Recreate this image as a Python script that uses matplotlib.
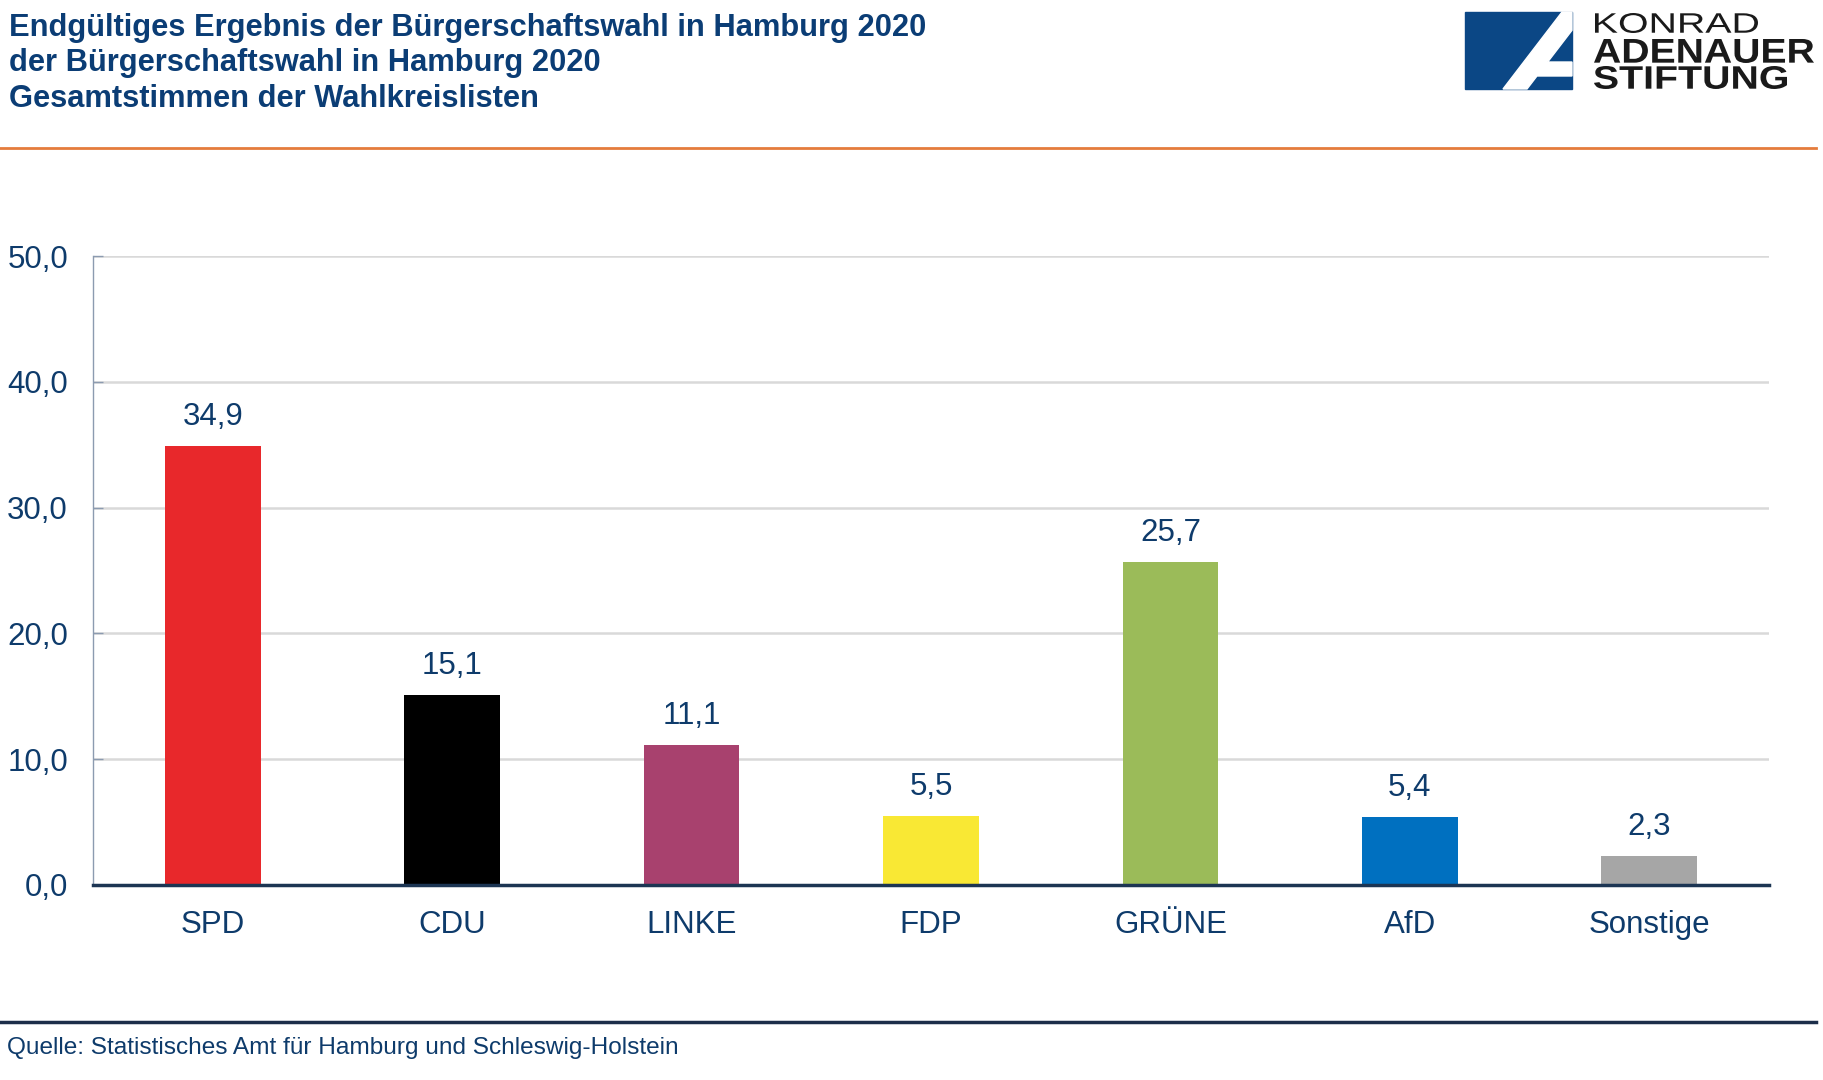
import matplotlib
matplotlib.use("Agg")
import matplotlib.pyplot as plt
from matplotlib.lines import Line2D
from matplotlib.patches import Polygon, PathPatch
from matplotlib.textpath import TextPath
from matplotlib.font_manager import FontProperties
from matplotlib.transforms import Affine2D

plt.rcParams['font.family'] = ['Liberation Sans', 'DejaVu Sans']

parteien = ['SPD', 'CDU', 'LINKE', 'FDP', 'GRÜNE', 'AfD', 'Sonstige']
anteile = [34.9, 15.1, 11.1, 5.5, 25.7, 5.4, 2.3]
farben = ['#e8282b', '#000000', '#a8416e', '#f9e834', '#9bbb59', '#0070c0', '#a6a6a6']
yticks = [0, 10, 20, 30, 40, 50]

W, H = 1823, 1080
navy = '#0e3b6b'

fig = plt.figure(figsize=(W / 100, H / 100), dpi=100)

def fx(px):
    return px / W

def fy(py):
    return 1 - py / H

# plot area
ax = fig.add_axes([fx(93), fy(885), fx(1769 - 93), (885 - 256) / H])
x = range(len(parteien))
bars = ax.bar(x, anteile, width=0.4, color=farben, zorder=3)
for b, v in zip(bars, anteile):
    ax.annotate(f'{v:.1f}'.replace('.', ','), (b.get_x() + b.get_width() / 2, v),
                xytext=(0, 10), textcoords='offset points', ha='center', va='bottom',
                fontsize=22.5, color=navy)

ax.set_xlim(-0.5, len(parteien) - 0.5)
ax.set_ylim(0, 50)
ax.set_yticks(yticks)
ax.set_yticklabels([f'{t:.1f}'.replace('.', ',') for t in yticks], fontsize=22.5, color=navy)
ax.set_xticks(list(x))
ax.set_xticklabels(parteien, fontsize=22.5, color=navy)
ax.tick_params(axis='x', length=0, pad=18)
ax.tick_params(axis='y', direction='in', length=7, width=1, color='#8c9bb0', pad=18)
ax.grid(axis='y', color='#d9d9d9', linewidth=1.8, zorder=0)
ax.set_axisbelow(True)
for s in ['top', 'right']:
    ax.spines[s].set_visible(False)
ax.spines['left'].set_color('#8c9bb0')
ax.spines['left'].set_linewidth(1)
ax.spines['bottom'].set_color('#1c3553')
ax.spines['bottom'].set_linewidth(2.5)
ax.spines['bottom'].set_zorder(4)

# title
titel = ['Endgültiges Ergebnis der Bürgerschaftswahl in Hamburg 2020',
         'der Bürgerschaftswahl in Hamburg 2020',
         'Gesamtstimmen der Wahlkreislisten']
for zeile, base in zip(titel, [36, 71, 107]):
    fig.text(fx(9), fy(base), zeile, fontsize=22.2, fontweight='bold', color='#0b3d75',
             ha='left', va='baseline')

# separator lines
fig.add_artist(Line2D([0, fx(1816)], [fy(148), fy(148)], color='#e57c3c', linewidth=2))
fig.add_artist(Line2D([0, fx(1816)], [fy(1022), fy(1022)], color='#1c2e4a', linewidth=2.5))

fig.text(fx(7), fy(1048), 'Quelle: Statistisches Amt für Hamburg und Schleswig-Holstein',
         fontsize=17.6, color=navy, ha='left', va='center')

# logo
blau = '#0b4785'
def px(pts):
    return [(fx(a), fy(b)) for a, b in pts]

fig.add_artist(Polygon(px([(1465, 12), (1572, 12), (1572, 89), (1465, 89)]),
                       closed=True, color=blau, transform=fig.transFigure))
k = 59 / 77
def rechts(y):
    return 1527 + (89 - y) * k
def links(y):
    return 1503 + (89 - y) * k
fig.add_artist(Polygon(px([(links(89), 89), (rechts(89), 89), (rechts(76), 76), (1572, 76),
                           (1572, 62), (rechts(62), 62), (1572, 89 - (1572 - 1527) / k),
                           (1572, 12), (links(12), 12)]),
                       closed=True, color='white', transform=fig.transFigure))

def fit_text(s, x0, x1, ytop, ybot, weight):
    tp = TextPath((0, 0), s, size=1, prop=FontProperties(family='Liberation Sans', weight=weight))
    e = tp.get_extents()
    tr = (Affine2D().translate(-e.x0, -e.y0)
          .scale((x1 - x0) / e.width, (ybot - ytop) / e.height)
          .translate(x0, H - ybot))
    fig.add_artist(PathPatch(tp, transform=tr, color='#1a1a1a', lw=0))

fit_text('KONRAD', 1595, 1758, 13, 33, 'normal')
fit_text('ADENAUER', 1594, 1814, 39, 63, 'bold')
fit_text('STIFTUNG', 1594, 1787, 66, 89, 'bold')

fig.savefig('out.png', dpi=100, facecolor='white')
